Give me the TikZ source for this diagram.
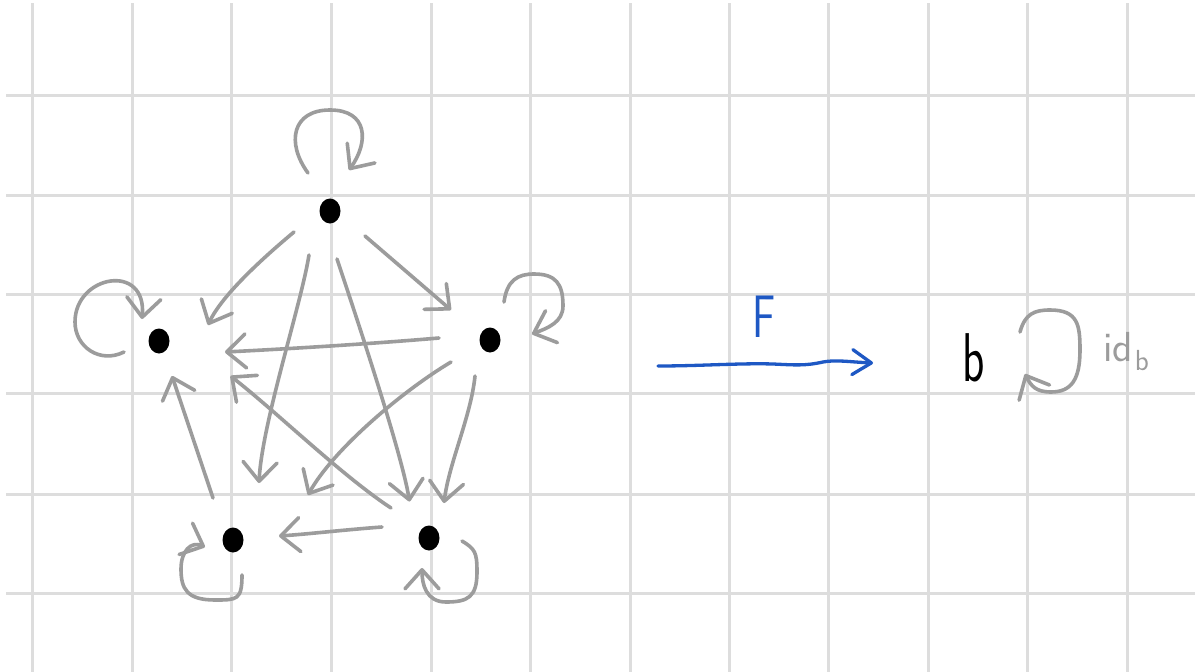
\documentclass[tikz,border=0pt]{standalone}
\usepackage{fontspec}
\usetikzlibrary{arrows.meta,shapes.geometric,calc}
\definecolor{gridc}{RGB}{221,221,221}
\definecolor{arrc}{RGB}{156,156,156}
\definecolor{bluec}{RGB}{30,88,196}
\tikzset{
  gridln/.style={draw=gridc, line width=3pt},
  garr/.style={draw=arrc, line width=3.6pt, line cap=round, line join=round,
    -{Straight Barb[length=19pt,width=34pt,round]}},
  barr/.style={draw=bluec, line width=3.3pt, line cap=round, line join=round,
    -{Straight Barb[length=19pt,width=25pt,round]}},
  dotn/.style={ellipse, fill=black, draw=none, minimum width=21pt, minimum height=25pt, inner sep=0pt},
  txt/.style={inner sep=0pt, anchor=base west}
}
\begin{document}
\begin{tikzpicture}[x=1pt,y=-1pt]
\useasboundingbox (0,0) rectangle (1195,672);
\fill[white] (0,0) rectangle (1195,672);
% grid
\foreach \gx in {32,132,231,331,431,530,630,729,828,928,1027,1127}
  \draw[gridln] (\gx,3) -- (\gx,672);
\foreach \gy in {95,195,294,393,494,593}
  \draw[gridln] (6,\gy) -- (1195,\gy);
% objects
\node[dotn] (T)  at (330,211) {};
\node[dotn] (L)  at (159,341) {};
\node[dotn] (R)  at (490,340) {};
\node[dotn] (BL) at (233,540) {};
\node[dotn] (BR) at (429,538) {};
% morphisms between objects
\draw[garr] ([shift={(-36,21)}]T.center) .. controls +(-30,25) and +(14,-30) .. ([shift={(49,-16)}]L.center);
\draw[garr] ([shift={(-21,44)}]T.center) .. controls +(-8,50) and +(3,-60) .. ([shift={(26,-57)}]BL.center);
\draw[garr] ([shift={(7,48)}]T.center) .. controls +(15,45) and +(-8,-50) .. ([shift={(-19.5,-36.5)}]BR.center);
\draw[garr] ([shift={(35,25)}]T.center) -- ([shift={(-39,-30)}]R.center);
\draw[garr] ([shift={(-51,-2)}]R.center) .. controls +(-70,6) and +(60,-3) .. ([shift={(66,11)}]L.center);
\draw[garr] ([shift={(-39,22)}]R.center) .. controls +(-50,30) and +(25,-45) .. ([shift={(75,-45)}]BL.center);
\draw[garr] ([shift={(-15,36)}]R.center) .. controls +(-4,40) and +(5,-40) .. ([shift={(15,-35)}]BR.center);
\draw[garr] ([shift={(-38,-30)}]BR.center) .. controls +(-50,-33) and +(45,35) .. ([shift={(71.5,35)}]L.center);
\draw[garr] ([shift={(-47,-11)}]BR.center) .. controls +(-40,3) and +(30,-2) .. ([shift={(46,-4)}]BL.center);
\draw[garr] ([shift={(-20,-42)}]BL.center) -- ([shift={(13,35)}]L.center);
% identity loops
\draw[garr] ([shift={(-22,-38)}]T.center) .. controls +(-22,-30) and +(-38,0) .. (330,110)
  .. controls +(38,0) and +(20,-28) .. ([shift={(19,-41)}]T.center);
\draw[garr] ([shift={(-35,11)}]L.center) .. controls +(-24,12) and +(0,25) .. (75,322)
  .. controls +(0,-47) and +(5,-57) .. ([shift={(-17,-22)}]L.center);
\draw[garr] ([shift={(14,-38)}]R.center) .. controls +(3,-22) and +(-16,0) .. (534,274)
  .. controls +(22,0) and +(0,-22) .. (563,306)
  .. controls +(0,16) and +(16,-6) .. ([shift={(42,-6)}]R.center);
\draw[garr] ([shift={(9,35)}]BL.center) .. controls +(0,25) and +(22,0) .. (215,600)
  .. controls +(-28,0) and +(0,20) .. (181,569)
  .. controls +(0,-18) and +(-14,-6) .. ([shift={(-28,7)}]BL.center);
\draw[garr] ([shift={(33,3)}]BR.center) .. controls +(13,8) and +(0,-20) .. (477,572)
  .. controls +(0,25) and +(22,0) .. (446,602)
  .. controls +(-20,0) and +(0,16) .. ([shift={(-7,30)}]BR.center);
% functor F
\coordinate (Fs) at (658,366);
\coordinate (Ft) at (873,363);
\draw[barr] (Fs) .. controls (700,366) and (740,363) .. (773,364)
  .. controls (795,365) and (805,366) .. (823,362)
  .. controls (836,359.5) and (850,362) .. (Ft);
\node[txt, text=bluec] (Flab) at (752,337) {\scalebox{0.72}[1]{\sffamily\fontsize{60}{60}\selectfont F}};
% target category
\coordinate (bpos) at (962,381);
\node[txt, text=black] (b) at (bpos) {\scalebox{0.67}[1]{\sffamily\fontsize{69}{69}\selectfont b}};
\draw[garr] ([shift={(58,-49)}]bpos) .. controls +(5,-18) and +(-16,0) .. (1050,310)
  .. controls +(28,0) and +(0,-25) .. (1080,350)
  .. controls +(0,30) and +(20,0) .. (1051,392)
  .. controls +(-15,0) and +(6,12) .. ([shift={(63,-7)}]bpos);
\node[txt, text=arrc] (idb) at (1103,361) {\sffamily\fontsize{42}{42}\selectfont id\hspace{2pt}\raisebox{-9pt}{\fontsize{29}{29}\selectfont b}};
\end{tikzpicture}
\end{document}
